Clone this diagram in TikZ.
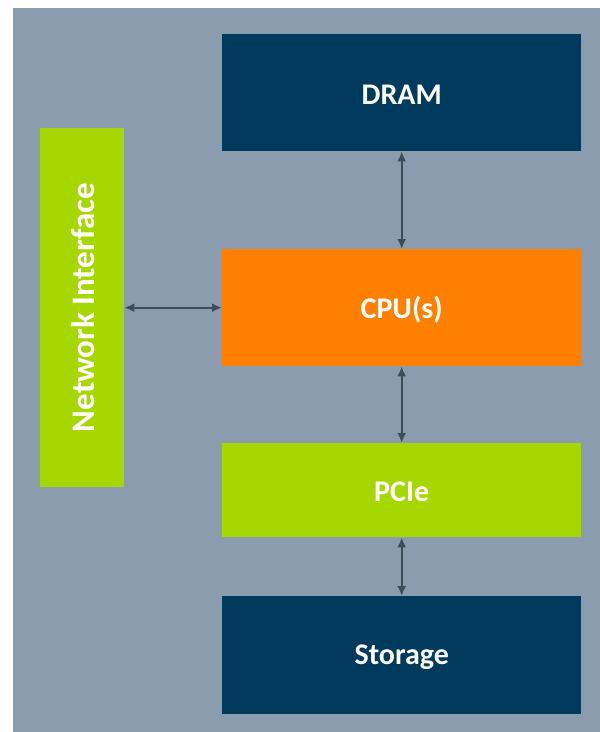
\documentclass[tikz,border=0pt]{standalone}
\usepackage{fontspec}
\setmainfont{Carlito}
\usetikzlibrary{arrows.meta}
\definecolor{bgc}{HTML}{8A9CAE}
\definecolor{navy}{HTML}{003A5C}
\definecolor{orng}{HTML}{FF8000}
\definecolor{lime}{HTML}{A6D700}
\definecolor{arr}{HTML}{3E4B59}
\tikzset{
  blk/.style={draw=none, inner sep=0pt, anchor=north west},
  lbl/.style={text=white, inner sep=0pt, font=\fontsize{30}{32}\selectfont\bfseries},
  link/.style={draw=arr, line width=2pt, {Latex[length=10pt,width=9pt]}-{Latex[length=10pt,width=9pt]}}
}
\begin{document}
\begin{tikzpicture}[x=1pt,y=-1pt]
\useasboundingbox (0,0) rectangle (600,732);
\fill[bgc] (13,8) rectangle (600,732);
\node[blk, fill=navy, minimum width=359pt, minimum height=117pt] (dram) at (222,34) {};
\node[blk, fill=orng, minimum width=359pt, minimum height=117pt] (cpu) at (222,249) {};
\node[blk, fill=lime, minimum width=359pt, minimum height=94pt] (pcie) at (222,443) {};
\node[blk, fill=navy, minimum width=359pt, minimum height=118pt] (stor) at (222,596) {};
\node[blk, fill=lime, minimum width=84pt, minimum height=359pt] (ni) at (40,128) {};
\node[lbl] (dramt) at ([yshift=-2pt]dram.center) {DRAM};
\node[lbl] (cput) at ([yshift=-2pt]cpu.center) {CPU(s)};
\node[lbl] (pciet) at ([yshift=-2pt]pcie.center) {PCIe};
\node[lbl] (stort) at ([yshift=-2pt]stor.center) {Storage};
\node[lbl, font=\fontsize{33}{35}\selectfont\bfseries, rotate=90] (nit) at ([xshift=1pt]ni.center) {Network Interface};
\draw[link] (dram.south) -- (cpu.north);
\draw[link] (cpu.south) -- (pcie.north);
\draw[link] (pcie.south) -- (stor.north);
\draw[link] (ni.east |- cpu.west) -- (cpu.west);
\end{tikzpicture}
\end{document}
